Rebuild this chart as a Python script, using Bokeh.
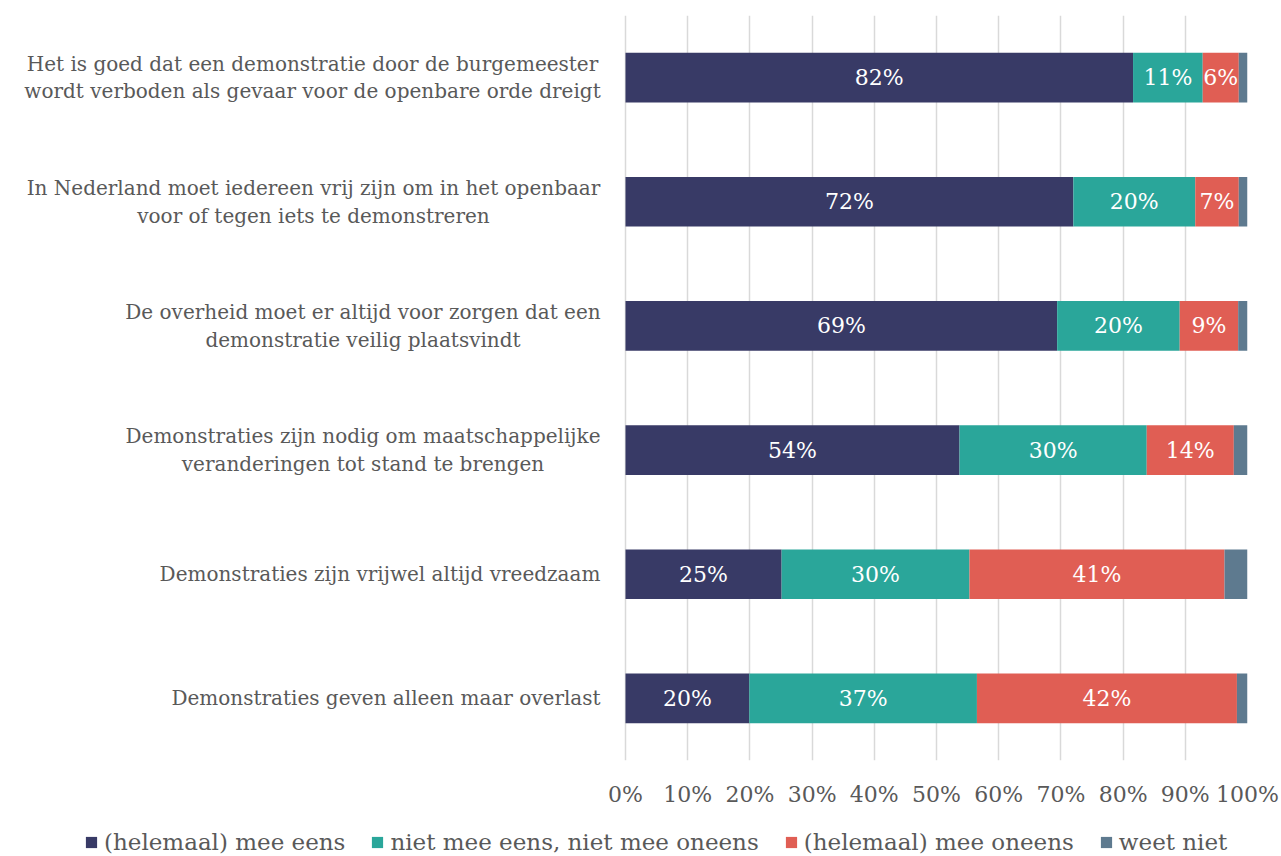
from bokeh.plotting import figure
from bokeh.layouts import column
from bokeh.models import (FactorRange, Range1d, FixedTicker, Legend, LegendItem,
                          ColumnDataSource, CustomJSTickFormatter)
from bokeh.embed import file_html
from bokeh.resources import INLINE
from bokeh.core.properties import value

categories = [
    "Het is goed dat een demonstratie door de burgemeester\nwordt verboden als gevaar voor de openbare orde dreigt",
    "In Nederland moet iedereen vrij zijn om in het openbaar\nvoor of tegen iets te demonstreren",
    "De overheid moet er altijd voor zorgen dat een\ndemonstratie veilig plaatsvindt",
    "Demonstraties zijn nodig om maatschappelijke\nveranderingen tot stand te brengen",
    "Demonstraties zijn vrijwel altijd vreedzaam",
    "Demonstraties geven alleen maar overlast",
]
mee_eens = [81.6, 72.0, 69.4, 53.7, 25.1, 19.9]
neutraal = [11.2, 19.6, 19.7, 30.1, 30.2, 36.6]
oneens = [5.8, 7.0, 9.4, 14.0, 41.0, 41.8]
weet_niet = [1.4, 1.4, 1.5, 2.2, 3.7, 1.7]

series_names = ["(helemaal) mee eens", "niet mee eens, niet mee oneens",
                "(helemaal) mee oneens", "weet niet"]
series_keys = ["mee_eens", "neutraal", "oneens", "weet_niet"]
colors = ["#383a66", "#2aa69a", "#e05e54", "#5e7a8f"]
x_ticks = [0, 10, 20, 30, 40, 50, 60, 70, 80, 90, 100]

FONT = "DejaVu Serif"
GREY = "#595959"

# layout (pixels): bars start at 625 px, 100% at 1247 px
W, H_MAIN, H_LEG = 1281, 810, 46
X0_PX, X100_PX = 625, 1247
LABEL_GAP = 25
# widest line of each category label at 20px DejaVu Serif (for centring the lines)
label_block_widths = [576, 574, 475, 475, 441, 429]

source = ColumnDataSource(dict(cat=categories, mee_eens=mee_eens, neutraal=neutraal,
                               oneens=oneens, weet_niet=weet_niet))

x_start = -100.0 * X0_PX / (X100_PX - X0_PX)
p = figure(width=W, height=H_MAIN, output_backend="svg", toolbar_location=None,
           y_range=FactorRange(factors=list(reversed(categories))),
           x_range=Range1d(x_start, 100))
p.min_border_left = 0
p.min_border_right = W - X100_PX
p.min_border_top = 15
p.min_border_bottom = 50
p.outline_line_color = None
p.yaxis.visible = False

renderers = p.hbar_stack(series_keys, y="cat", height=0.4, color=colors,
                         source=source, line_color=None)

# category labels, right edge LABEL_GAP px left of 0%, lines centred on each other
p.text(x=[0] * len(categories), y=categories, text=categories,
       x_offset=[-LABEL_GAP - w / 2 for w in label_block_widths],
       text_align="center", text_baseline="middle", text_line_height=1.15,
       text_color=GREY, text_font=value(FONT), text_font_size="20px")

# labels inside bars
vals = [mee_eens, neutraal, oneens]
lx, ly, lt = [], [], []
for s in range(3):
    for i, c in enumerate(categories):
        left = sum(v[i] for v in vals[:s])
        lx.append(left + vals[s][i] / 2)
        ly.append(c)
        lt.append(f"{round(vals[s][i])}%")
p.text(x=lx, y=ly, text=lt, text_align="center", text_baseline="middle",
       text_color="white", text_font=value(FONT), text_font_size="22px")

p.xaxis.ticker = FixedTicker(ticks=x_ticks)
p.xaxis.formatter = CustomJSTickFormatter(code="return tick + '%'")
p.xaxis.axis_line_color = None
p.xaxis.major_tick_line_color = None
p.xaxis.major_tick_out = 0
p.xaxis.minor_tick_line_color = None
p.xaxis.major_label_standoff = 21
p.xaxis.major_label_text_font = FONT
p.xaxis.major_label_text_font_size = "22px"
p.xaxis.major_label_text_color = GREY

p.xgrid.grid_line_color = "#d9d9d9"
p.xgrid.grid_line_width = 1.5
p.ygrid.grid_line_color = None

# legend strip below the chart (swatch renderers hold one bar outside the visible range)
pl = figure(width=W, height=H_LEG, output_backend="svg", toolbar_location=None,
            x_axis_type=None, y_axis_type=None, x_range=Range1d(0, 1), y_range=Range1d(0, 1))
pl.min_border = 0
pl.outline_line_color = None
pl.xgrid.visible = False
pl.ygrid.visible = False
leg_renderers = [pl.hbar(y=[-5], left=[-5], right=[-4], height=1, color=c, line_color=None)
                 for c in colors]
legend = Legend(items=[LegendItem(label=n, renderers=[r]) for n, r in zip(series_names, leg_renderers)],
                orientation="horizontal", location=(84, 1),
                label_text_font=FONT, label_text_font_size="23px", label_text_color=GREY,
                glyph_width=14, glyph_height=14, label_standoff=6, spacing=25,
                border_line_color=None, background_fill_alpha=0, padding=0, margin=0)
pl.add_layout(legend, "center")

layout = column(p, pl, spacing=0)
open("out.html", "w").write(file_html(layout, INLINE))
